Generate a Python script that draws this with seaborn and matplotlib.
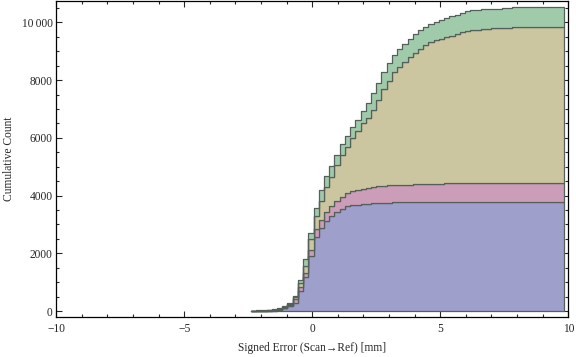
import numpy as np
import pandas as pd
import matplotlib
matplotlib.use("Agg")
import matplotlib.pyplot as plt
from matplotlib.ticker import MultipleLocator, FixedLocator, FixedFormatter
import seaborn as sns

# bins: 60 bins starting at -2.4, width ~0.204
bin_start = -2.4
bin_width = 0.204
n_bins = 60

# stacked cumulative heights (top of each layer) per bin
blue_top = [0, 5, 5, 6, 15, 45, 90, 160, 290, 700, 1180, 1890, 2560, 2880, 3120,
            3280, 3430, 3540, 3630, 3670, 3690, 3710, 3722, 3735, 3745, 3752, 3758,
            3760, 3760, 3760, 3760] + [3790] * 29
pink_top = [0, 10, 11, 12, 30, 65, 115, 195, 400, 830, 1330, 2120, 2830, 3170, 3430,
            3630, 3810, 3960, 4080, 4160, 4200, 4230, 4270, 4300, 4325, 4345, 4360,
            4368, 4370, 4372, 4382] + [4412] * 6 + [4420] * 23
tan_top = [1, 15, 17, 19, 45, 85, 140, 230, 470, 960, 1560, 2480, 3300, 3820, 4300,
           4660, 5050, 5390, 5680, 5980, 6240, 6530, 6700, 6960, 7320, 7690, 7980,
           8265, 8460, 8640, 8810, 8950, 9085, 9210, 9310, 9375, 9420, 9495, 9540,
           9598, 9650, 9705, 9740, 9740, 9770, 9770, 9790, 9790, 9820, 9820] + [9845] * 10
total_top = [2, 20, 22, 25, 60, 105, 165, 265, 510, 1070, 1785, 2712, 3585, 4190, 4670,
             5030, 5420, 5770, 6060, 6360, 6620, 6920, 7215, 7545, 7910, 8285, 8580,
             8870, 9080, 9260, 9435, 9580, 9720, 9850, 9955, 10020, 10070, 10160, 10205,
             10265, 10320, 10380, 10415, 10415, 10450, 10450, 10470, 10470, 10505, 10505] + [10530] * 10

series = ["d", "c", "b", "a"]  # top to bottom in the stack
colors = ["#a0cbab", "#cbc6a0", "#cb9db8", "#9f9fcc"]

edges = bin_start + bin_width * np.arange(n_bins + 1)
centers = (edges[:-1] + edges[1:]) / 2

tops = [np.array(total_top), np.array(tan_top), np.array(pink_top), np.array(blue_top)]
below = tops[1:] + [np.zeros(n_bins)]
rows = []
for name, top, low in zip(series, tops, below):
    cum = top - low
    counts = np.diff(np.concatenate([[0], cum]))
    rows.append(pd.DataFrame({"x": centers, "w": counts, "s": name}))
df = pd.concat(rows, ignore_index=True)

sns.set_style("ticks")
plt.rcParams["font.family"] = ["Liberation Serif", "DejaVu Serif"]
plt.rcParams["xtick.direction"] = "in"
plt.rcParams["ytick.direction"] = "in"

fig = plt.figure(figsize=(5.76, 3.57), dpi=100)
ax = fig.add_axes([56.3 / 576, 1 - 316.5 / 357, 512 / 576, 315.5 / 357])

sns.histplot(data=df, x="x", weights="w", hue="s", hue_order=series,
             palette=colors, binwidth=bin_width,
             binrange=(edges[0], edges[-1]), cumulative=True, multiple="stack",
             element="step", fill=True, alpha=1, edgecolor="#56605a",
             linewidth=0.9, legend=False, ax=ax)

ax.set_xlim(-10, 10)
ax.set_ylim(-190, 10740)
ax.xaxis.set_major_locator(FixedLocator([-10, -5, 0, 5, 10]))
ax.xaxis.set_major_formatter(FixedFormatter(["\u221210", "\u22125", "0", "5", "10"]))
ax.xaxis.set_minor_locator(MultipleLocator(1))
ax.yaxis.set_major_locator(FixedLocator([0, 2000, 4000, 6000, 8000, 10000]))
ax.yaxis.set_major_formatter(FixedFormatter(["0", "2000", "4000", "6000", "8000", "10\u2009000"]))
ax.yaxis.set_minor_locator(MultipleLocator(500))
ax.tick_params(which="both", top=True, right=True, labelsize=8.3, width=0.8)
ax.tick_params(axis="x", pad=5)
ax.tick_params(axis="y", pad=2.5)
ax.tick_params(which="major", length=4)
ax.tick_params(which="minor", length=2.2)
for sp in ax.spines.values():
    sp.set_linewidth(0.9)
    sp.set_color("black")

ax.set_xlabel("Signed Error (Scan\u2192Ref) [mm]", fontsize=8.3, labelpad=5)
ax.set_ylabel("Cumulative Count", fontsize=8.3)
ax.yaxis.set_label_coords(-0.08, 0.5)

fig.savefig("out.png", dpi=100)
